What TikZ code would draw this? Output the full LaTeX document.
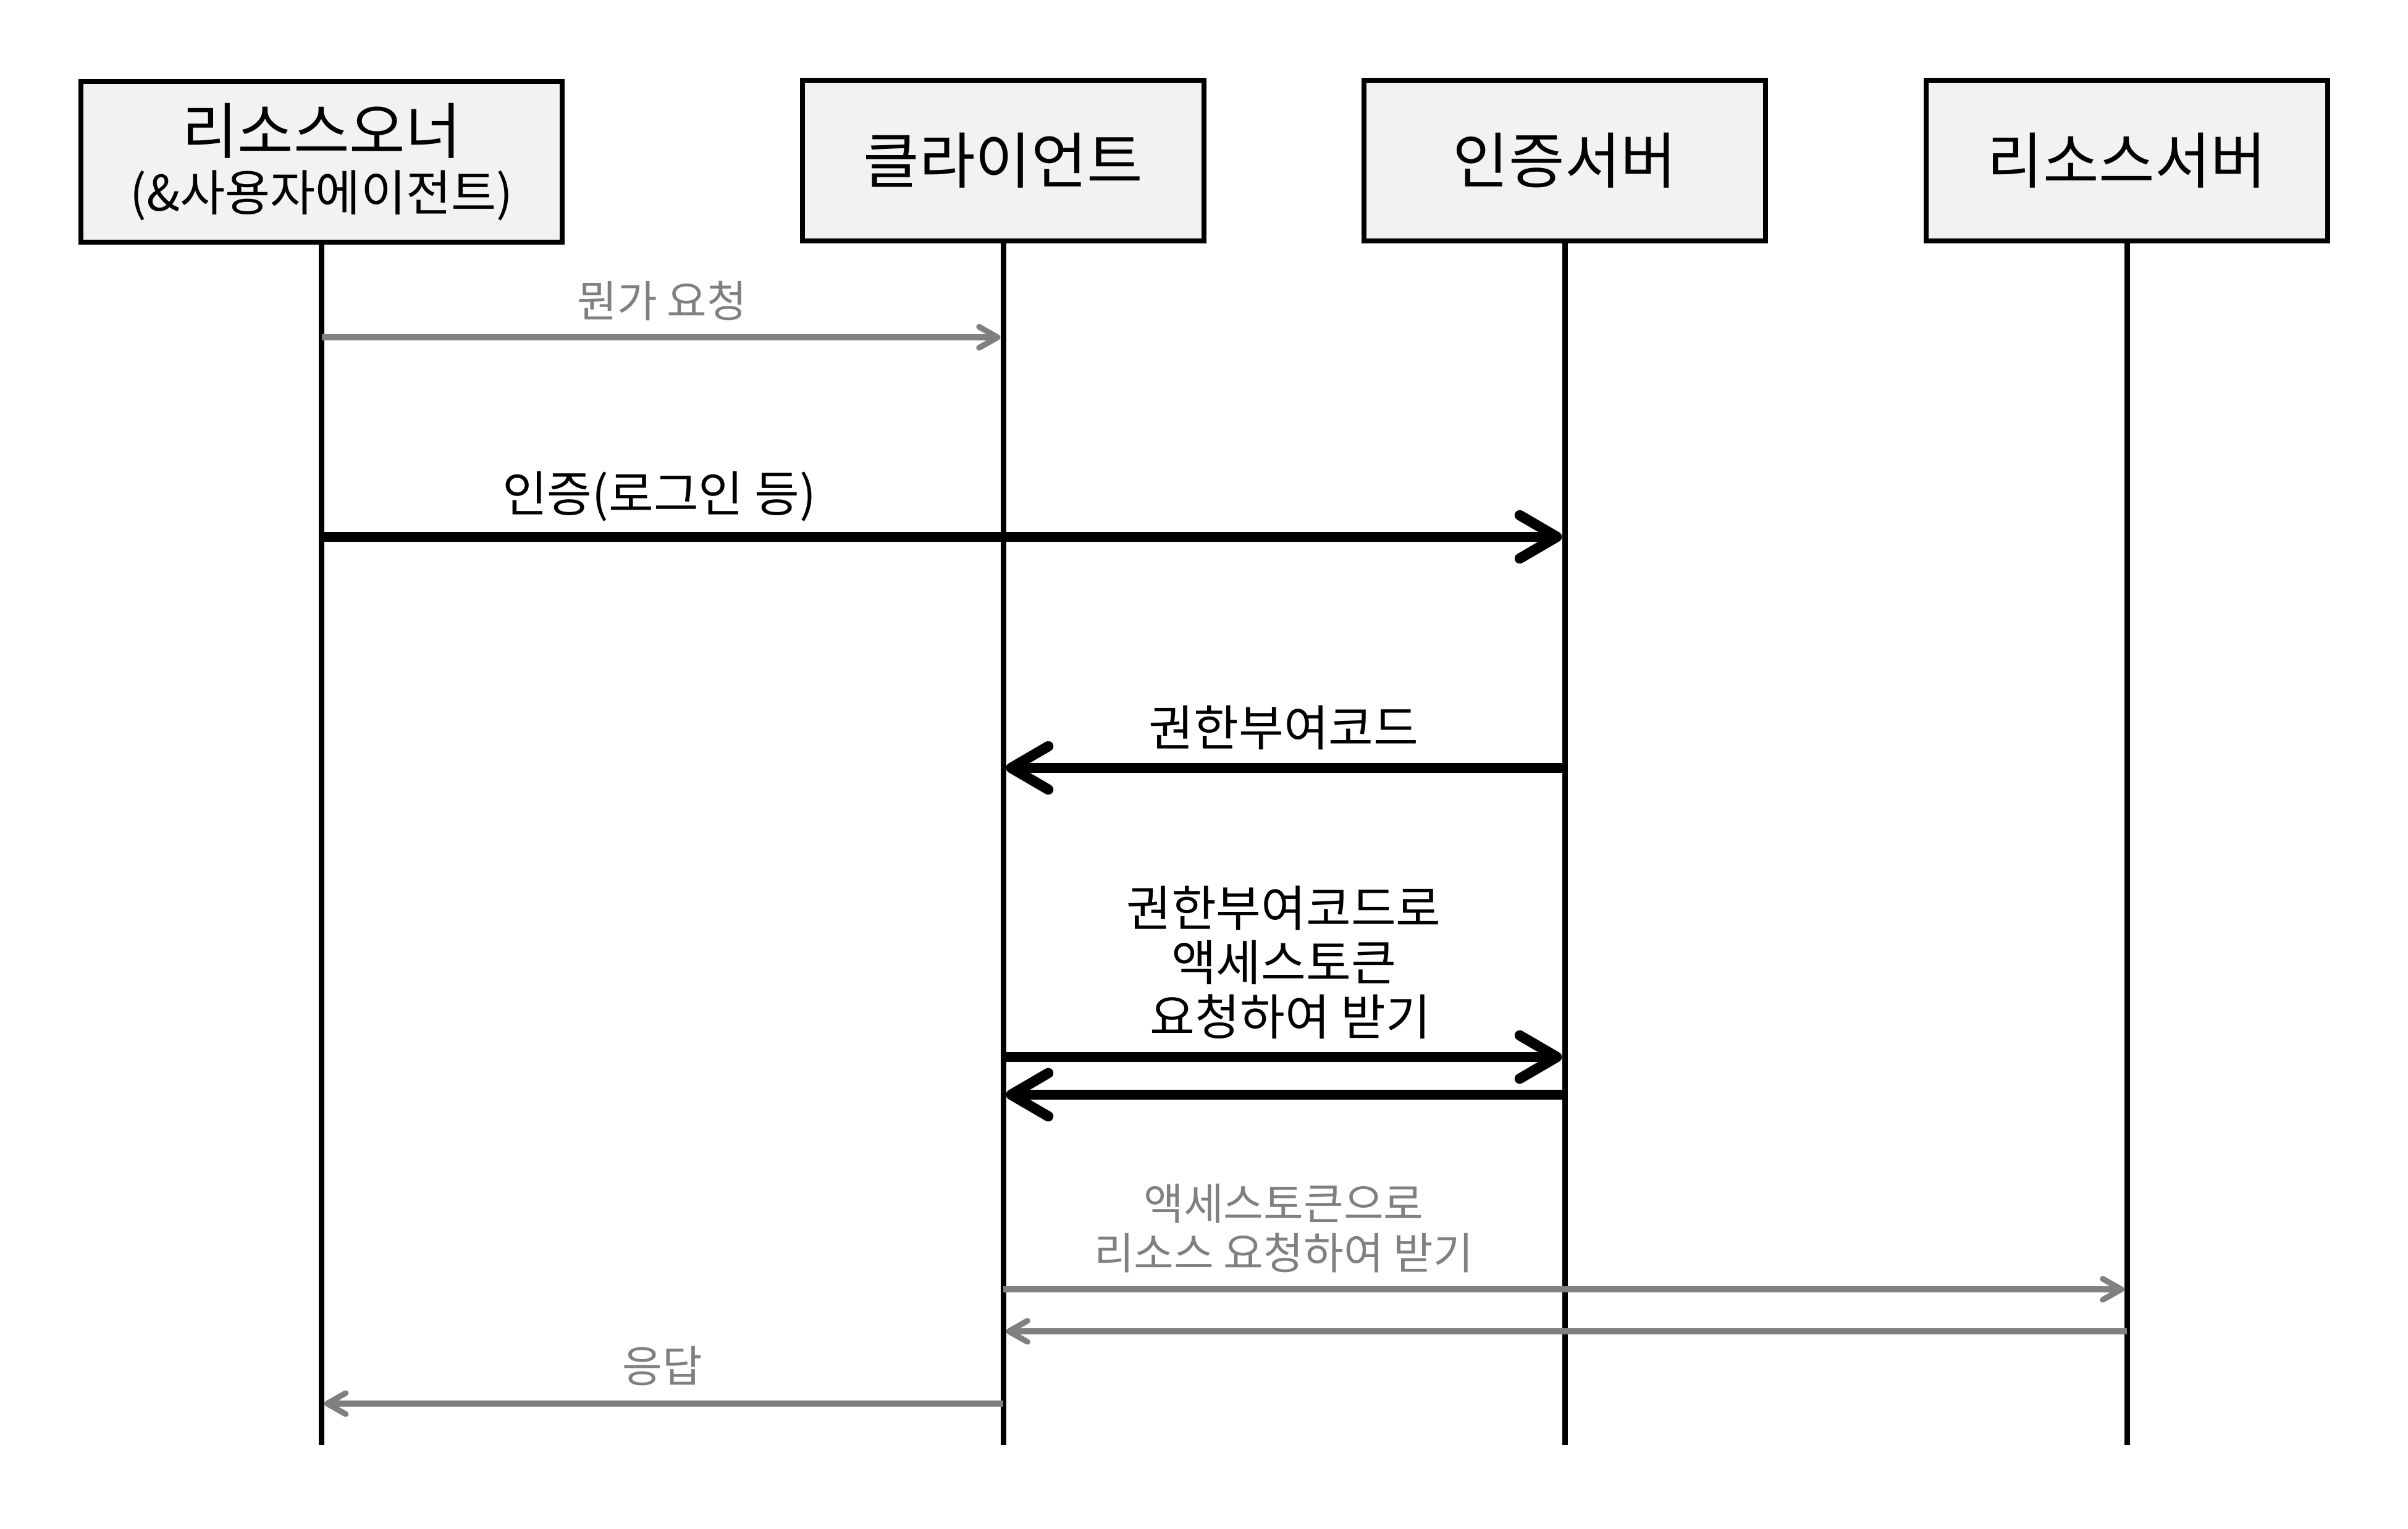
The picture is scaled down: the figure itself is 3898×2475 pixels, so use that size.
\documentclass[tikz,border=0pt]{standalone}
\usepackage{fontspec}
\setmainfont{Noto Sans CJK KR}
\usetikzlibrary{arrows.meta}
\definecolor{boxfill}{HTML}{F2F2F2}
\definecolor{msggray}{HTML}{808080}
\begin{document}
\begin{tikzpicture}[x=0.01cm,y=-0.01cm,
  actor/.style={draw, line width=0.085cm, fill=boxfill, minimum height=2.6cm,
    inner sep=0pt, align=center, font=\fontsize{28pt}{26.2pt}\selectfont},
  lifeline/.style={line width=0.09cm},
  bigmsg/.style={line width=0.167cm, -{Straight Barb[length=0.6cm,width=0.7cm,round]}, shorten >=0.045cm},
  smallmsg/.style={msggray, line width=0.093cm, -{Straight Barb[length=0.3cm,width=0.34cm,round]}, shorten >=0.045cm},
  biglabel/.style={anchor=south, inner sep=0pt, align=center, font=\fontsize{22.5pt}{25pt}\selectfont},
  smalllabel/.style={anchor=south, inner sep=0pt, align=center, text=msggray, font=\fontsize{20pt}{22.8pt}\selectfont}]
\useasboundingbox (0,0) rectangle (3898,2475);

% actors
\node[actor, minimum width=7.79cm] (ro) at (520.5,262) {리소스오너\\{\fontsize{22.6pt}{26.2pt}\selectfont (\&사용자에이전트)}};
\node[actor, minimum width=6.5cm] (cl) at (1624,260) {클라이언트};
\node[actor, minimum width=6.5cm] (as) at (2533,260) {인증서버};
\node[actor, minimum width=6.5cm] (rs) at (3443,260) {리소스서버};

% lifelines
\coordinate (roE) at (520.5,2339);
\coordinate (clE) at (1624,2339);
\coordinate (asE) at (2533,2339);
\coordinate (rsE) at (3443,2339);
\draw[lifeline] (ro.south) -- (roE);
\draw[lifeline] (cl.south) -- (clE);
\draw[lifeline] (as.south) -- (asE);
\draw[lifeline] (rs.south) -- (rsE);

% message points
\coordinate (m1a) at (520.5,546);  \coordinate (m1b) at (1624,546);
\coordinate (m2a) at (520.5,869);  \coordinate (m2b) at (2533,869);
\coordinate (m3a) at (2533,1243);  \coordinate (m3b) at (1624,1243);
\coordinate (m4a) at (1624,1711);  \coordinate (m4b) at (2533,1711);
\coordinate (m5a) at (2533,1772);  \coordinate (m5b) at (1624,1772);
\coordinate (m6a) at (1624,2087);  \coordinate (m6b) at (3443,2087);
\coordinate (m7a) at (3443,2155);  \coordinate (m7b) at (1624,2155);
\coordinate (m8a) at (1624,2272);  \coordinate (m8b) at (520.5,2272);

% messages
\draw[smallmsg] (m1a) -- (m1b);
\draw[bigmsg] (m2a) -- (m2b);
\draw[bigmsg] (m3a) -- (m3b);
\draw[bigmsg] (m4a) -- (m4b);
\draw[bigmsg] (m5a) -- (m5b);
\draw[smallmsg] (m6a) -- (m6b);
\draw[smallmsg] (m7a) -- (m7b);
\draw[smallmsg] (m8a) -- (m8b);

% labels
\node[smalllabel] (l1) at (1072,520) {뭔가 요청};
\node[biglabel] (l2) at (1067,845) {인증(로그인 등)};
\node[biglabel] (l3) at (2078,1214) {권한부여코드};
\node[biglabel] (l4) at (2078,1682) {권한부여코드로\\액세스토큰\\\hspace*{0.22cm}요청하여 받기};
\node[smalllabel] (l5) at (2078,2061) {액세스토큰으로\\리소스 요청하여 받기};
\node[smalllabel] (l6) at (1072,2244) {응답};
\end{tikzpicture}
\end{document}
